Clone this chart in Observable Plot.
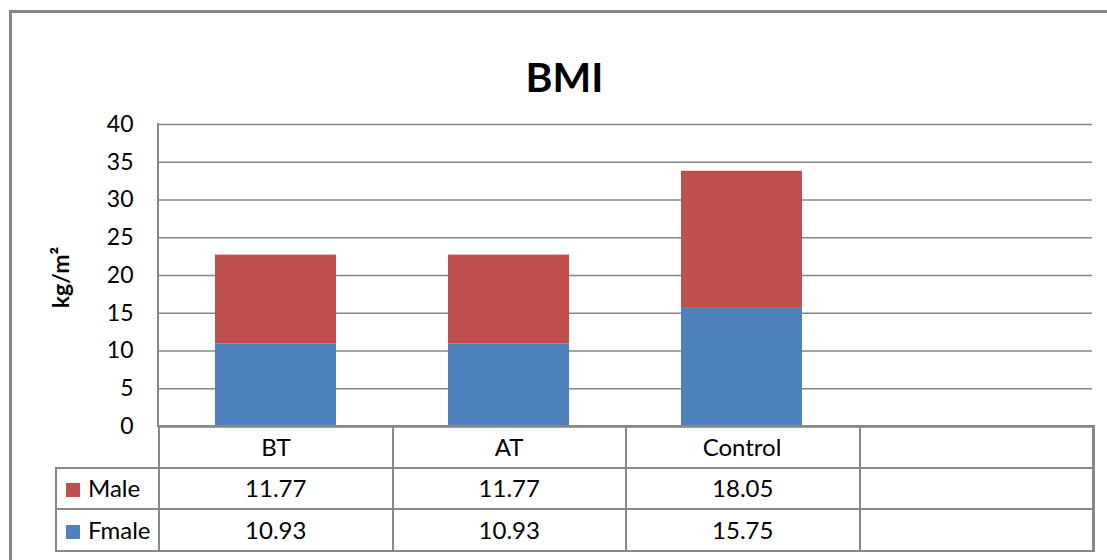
<!DOCTYPE html>
<html>
<head>
<meta charset="utf-8">
<script src="https://cdn.jsdelivr.net/npm/d3@7"></script>
<script src="https://cdn.jsdelivr.net/npm/@observablehq/plot@0.6"></script>
<style>
  html, body { margin: 0; padding: 0; background: #fff; overflow: hidden; }
  #wrap { position: relative; width: 1107px; height: 560px; overflow: hidden; font-family: Lato, "Open Sans", sans-serif; color: #000; }
  #outer { position: absolute; left: 9px; top: 10px; width: 1200px; height: 700px; border: 3px solid #888; box-sizing: border-box; }
  #chart { position: absolute; left: 0; top: 0; }
  #vline { position: absolute; left: 157px; top: 123px; width: 2px; height: 304px; background: #888; }
  table.dt { position: absolute; left: 55px; top: 425px; border-collapse: collapse; table-layout: fixed; font-size: 24px; }
  table.dt td { border: 2px solid #888; padding: 0; text-align: center; vertical-align: middle; line-height: 1; }
  table.dt td.blank { border-top: none; border-left: none; }
  table.dt td.leg { text-align: left; padding-left: 9px; white-space: nowrap; }
  table.dt .sw { display: inline-block; width: 14px; height: 14px; margin-right: 8px; vertical-align: 0px; }
  table.dt td.last { border-right-width: 3px; }
</style>
</head>
<body>
<div id="wrap">
  <div id="outer"></div>
  <div id="chart"></div>
  <div id="vline"></div>
  <div id="tbl"></div>
</div>
<script>
// ---- data ----
const categories = ["BT", "AT", "Control", ""];
const groups = ["BT", "AT", "Control"];
const male = [11.77, 11.77, 18.05];
const fmale = [10.93, 10.93, 15.75];
const seriesNames = ["Fmale", "Male"];
const seriesColors = ["#4F81BD", "#C0504D"];
const tableRows = ["Male", "Fmale"];
const yTicks = [0, 5, 10, 15, 20, 25, 30, 35, 40];
const titleText = "BMI";
const yLabel = "kg/m²";

const rows = groups.flatMap((g, i) => [
  {cat: g, sex: "Fmale", v: fmale[i]},
  {cat: g, sex: "Male", v: male[i]}
]);

const plot = Plot.plot({
  width: 1107,
  height: 560,
  marginLeft: 158,
  marginRight: 15,
  marginTop: 124,
  marginBottom: 134,
  style: {fontFamily: "Lato, 'Open Sans', sans-serif", fontSize: "22px", color: "#000", background: "transparent"},
  x: {domain: categories, paddingInner: 0.482, paddingOuter: 0.241, label: null},
  y: {domain: [0, 40], label: null},
  color: {domain: seriesNames, range: seriesColors},
  marks: [
    Plot.gridY(yTicks, {stroke: "#868686", strokeOpacity: 1, strokeWidth: 1.5}),
    Plot.barY(rows, Plot.stackY({x: "cat", y: "v", fill: "sex", order: seriesNames})),
    Plot.ruleY([0], {stroke: "#868686", strokeWidth: 2.5}),
    Plot.axisY(yTicks, {tickSize: 0, tickPadding: 25, fontSize: 23, label: null}),
    Plot.axisX({tickSize: 0, tickPadding: 12, fontSize: 24, label: null}),
    Plot.text([yLabel], {frameAnchor: "left", textAnchor: "middle", rotate: -90, dx: -97, dy: 2, fontSize: 23, fontWeight: "bold"}),
    Plot.text([titleText], {frameAnchor: "top", dx: -61, dy: -62, fontSize: 41, fontWeight: "bold"})
  ]
});
document.getElementById("chart").appendChild(plot);

// ---- data table below the axis ----
const valuesBySeries = {Male: male, Fmale: fmale};
const colorBySeries = {Male: seriesColors[1], Fmale: seriesColors[0]};
const colW = [103, 233.5, 233.5, 233.5, 233.5];
const rowH = [42, 40.5, 42.5];
let html = '<table class="dt"><colgroup>' + colW.map(w => `<col style="width:${w}px">`).join("") + '</colgroup>';
html += `<tr style="height:${rowH[0]}px"><td class="blank"></td>` +
  categories.map((c, i) => `<td class="${i === categories.length - 1 ? "last" : ""}"></td>`).join("") + '</tr>';
tableRows.forEach((s, r) => {
  html += `<tr style="height:${rowH[r + 1]}px"><td class="leg"><span class="sw" style="background:${colorBySeries[s]}"></span>${s}</td>`;
  categories.forEach((c, i) => {
    const gi = groups.indexOf(c);
    const val = gi >= 0 ? valuesBySeries[s][gi].toFixed(2) : "";
    html += `<td class="${i === categories.length - 1 ? "last" : ""}">${val}</td>`;
  });
  html += '</tr>';
});
html += '</table>';
document.getElementById("tbl").innerHTML = html;
</script>
</body>
</html>
